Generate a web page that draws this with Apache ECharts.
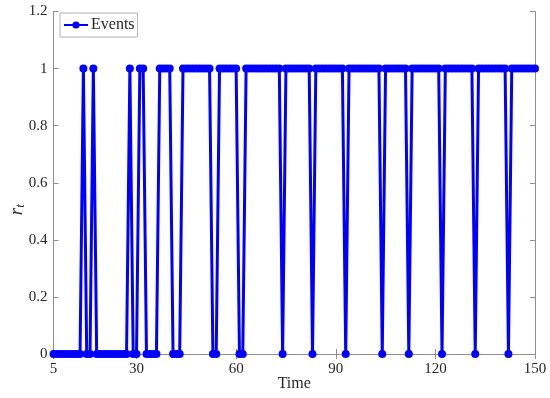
<!DOCTYPE html>
<html>
<head>
<meta charset="utf-8">
<script src="https://cdn.jsdelivr.net/npm/echarts@6/dist/echarts.min.js"></script>
<style>html,body{margin:0;padding:0;background:#fff}#c{width:550px;height:398px}</style>
</head>
<body>
<div id="c"></div>
<script>
// Time steps (5..150)
const startTime = 5;
// Event indicator r_t at each time step
const events = [
  0,0,0,0,0,0,0,0,0,1, // 5-14
  0,0,1,0,0,0,0,0,0,0, // 15-24
  0,0,0,1,0,0,1,1,0,0, // 25-34
  0,0,1,1,1,1,0,0,0,1, // 35-44
  1,1,1,1,1,1,1,1,0,0, // 45-54
  1,1,1,1,1,1,0,0,1,1, // 55-64
  1,1,1,1,1,1,1,1,1,0, // 65-74
  1,1,1,1,1,1,1,1,0,1, // 75-84
  1,1,1,1,1,1,1,1,0,1, // 85-94
  1,1,1,1,1,1,1,1,1,0, // 95-104
  1,1,1,1,1,1,1,0,1,1, // 105-114
  1,1,1,1,1,1,1,0,1,1, // 115-124
  1,1,1,1,1,1,1,0,1,1, // 125-134
  1,1,1,1,1,1,1,0,1,1, // 135-144
  1,1,1,1,1,1          // 145-150
];
const xTicks = [5, 30, 60, 90, 120, 150];
const yTicks = [0, 0.2, 0.4, 0.6, 0.8, 1, 1.2];

const seriesData = events.map((v, i) => [startTime + i, v]);

const axisGray = '#8f8f8f';
const textColor = '#262626';
const serif = '"Liberation Serif", "DejaVu Serif", serif';

const chart = echarts.init(document.getElementById('c'), null, {renderer: 'canvas'});
chart.setOption({
  animation: false,
  backgroundColor: '#fff',
  grid: {left: 53.5, right: 15, top: 11.5, bottom: 44, containLabel: false, outerBoundsMode: 'none'},
  legend: {
    show: true,
    left: 60, top: 13,
    padding: [4, 3, 4, 3],
    itemGap: 4,
    itemWidth: 24, itemHeight: 9,
    borderColor: '#a0a0a0', borderWidth: 0.8,
    backgroundColor: '#fff',
    textStyle: {fontFamily: serif, fontSize: 16, color: textColor, padding: [0,0,0,-2]},
    data: ['Events']
  },
  xAxis: [{
    type: 'value', min: 5, max: 150,
    name: 'Time', nameLocation: 'middle', nameGap: 22, nameMoveOverlap: false,
    nameTextStyle: {fontFamily: serif, fontSize: 16, color: textColor, verticalAlign: 'top'},
    axisLine: {show: true, lineStyle: {color: axisGray, width: 1}},
    axisTick: {show: true, inside: true, length: 5, lineStyle: {color: axisGray}, customValues: xTicks},
    axisLabel: {fontFamily: serif, fontSize: 15, color: textColor, margin: 8, customValues: xTicks},
    splitLine: {show: false}
  }, {
    type: 'value', min: 5, max: 150, position: 'top',
    axisLine: {show: true, lineStyle: {color: axisGray, width: 1}},
    axisTick: {show: true, inside: true, length: 5, lineStyle: {color: axisGray}, customValues: xTicks},
    axisLabel: {show: false, customValues: xTicks},
    splitLine: {show: false}
  }],
  yAxis: [{
    type: 'value', min: 0, max: 1.2, interval: 0.2,
    name: '{r|r}{t|t}', nameLocation: 'middle', nameGap: 26, nameRotate: 90, nameMoveOverlap: false,
    nameTextStyle: {
      padding: [0, 54, 0, 0],
      rich: {
        r: {fontFamily: serif, fontStyle: 'italic', fontSize: 19, color: textColor},
        t: {fontFamily: serif, fontStyle: 'italic', fontSize: 13, color: textColor, padding: [8, 0, 0, 0]}
      }
    },
    axisLine: {show: true, lineStyle: {color: axisGray, width: 1}},
    axisTick: {show: true, inside: true, length: 5, lineStyle: {color: axisGray}},
    axisLabel: {fontFamily: serif, fontSize: 15, color: textColor, margin: 6,
      formatter: v => String(+v.toFixed(1))},
    splitLine: {show: false}
  }, {
    type: 'value', min: 0, max: 1.2, interval: 0.2, position: 'right',
    axisLine: {show: true, lineStyle: {color: axisGray, width: 1}},
    axisTick: {show: true, inside: true, length: 5, lineStyle: {color: axisGray}},
    axisLabel: {show: false},
    splitLine: {show: false}
  }],
  series: [{
    name: 'Events',
    type: 'line',
    xAxisIndex: 0, yAxisIndex: 0,
    data: seriesData,
    clip: false,
    symbol: 'circle',
    symbolSize: 8,
    showAllSymbol: true,
    color: '#0000ff',
    lineStyle: {width: 3, color: '#0000ff'},
    itemStyle: {color: '#0000ff'}
  }]
});
</script>
</body>
</html>
